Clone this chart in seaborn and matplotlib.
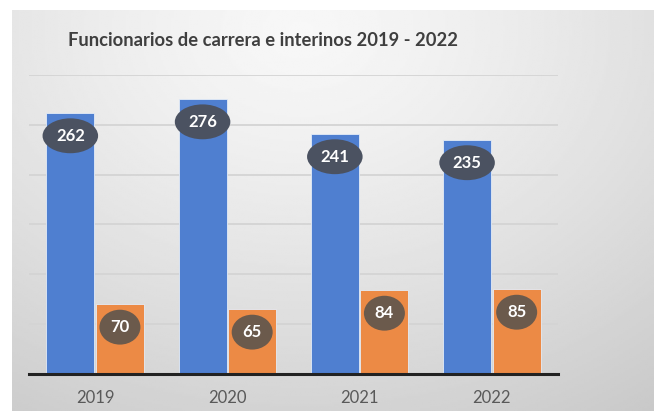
import numpy as np
import pandas as pd
import matplotlib.pyplot as plt
from matplotlib.patches import Ellipse
import seaborn as sns

anios = ['2019', '2020', '2021', '2022']
carrera = [262, 276, 241, 235]
interinos = [70, 65, 84, 85]
series = ['Funcionarios de carrera', 'Interinos']

df = pd.DataFrame({
    'anio': anios * 2,
    'valor': carrera + interinos,
    'tipo': [series[0]] * 4 + [series[1]] * 4,
})

azul = '#4f7fd0'
naranja = '#ec8a45'

sns.set_style('white')
plt.rcParams['font.family'] = ['Lato', 'DejaVu Sans']

fig = plt.figure(figsize=(6.54, 4.11), dpi=100)
fig.patch.set_facecolor('white')

# fondo gris degradado
bg = fig.add_axes([12 / 654, 0, 1 - 12 / 654, 1 - 10 / 411])
yy, xx = np.mgrid[0:1:200j, 0:1:300j]
d = np.sqrt(((xx - 0.45) / 0.9) ** 2 + ((yy - 0.05) / 1.1) ** 2)
g = np.clip(0.97 - 0.17 * d ** 1.3, 0.78, 0.97)
bg.imshow(g, cmap='gray', vmin=0, vmax=1, aspect='auto', extent=[0, 1, 1, 0])
bg.axis('off')

ax = fig.add_axes([29 / 654, 1 - 374 / 411, (558 - 29) / 654, (374 - 75) / 411])
ax.set_facecolor('none')

sns.barplot(data=df, x='anio', y='valor', hue='tipo', palette=[azul, naranja],
            saturation=1, width=0.75, gap=0.03, ax=ax, legend=False, zorder=2,
            edgecolor='#e4ecf7', linewidth=0.6)

ax.set_ylim(0, 300)
ax.set_yticks(range(50, 301, 50))
ax.yaxis.grid(True, color='#d4d4d4', linewidth=1.3)
ax.set_axisbelow(True)
ax.tick_params(axis='y', left=False, labelleft=False)
ax.tick_params(axis='x', bottom=False, labelsize=12, labelcolor='#595959', pad=8)
ax.set_xlabel('')
ax.set_ylabel('')
for s in ['top', 'right', 'left']:
    ax.spines[s].set_visible(False)
ax.spines['bottom'].set_color('#222222')
ax.spines['bottom'].set_linewidth(2.2)
ax.spines['bottom'].set_zorder(5)

colores_etq = ['#4b5261', '#6b5a4c']
anchos = [0.42, 0.31]
for i, cont in enumerate(ax.containers):
    for bar in cont:
        h = bar.get_height()
        cx = bar.get_x() + bar.get_width() / 2
        cy = h - 23
        ax.add_patch(Ellipse((cx, cy), anchos[i], 35, facecolor=colores_etq[i],
                             edgecolor='none', zorder=4))
        ax.text(cx, cy, f'{h:.0f}', ha='center', va='center', color='white',
                fontsize=12, fontweight='bold', zorder=5)

fig.text(68 / 654, 1 - 41 / 411, 'Funcionarios de carrera e interinos 2019 - 2022',
         ha='left', va='center', fontsize=13.2, fontweight='bold', color='#3f3f3f')

fig.savefig('out.png', dpi=100)
